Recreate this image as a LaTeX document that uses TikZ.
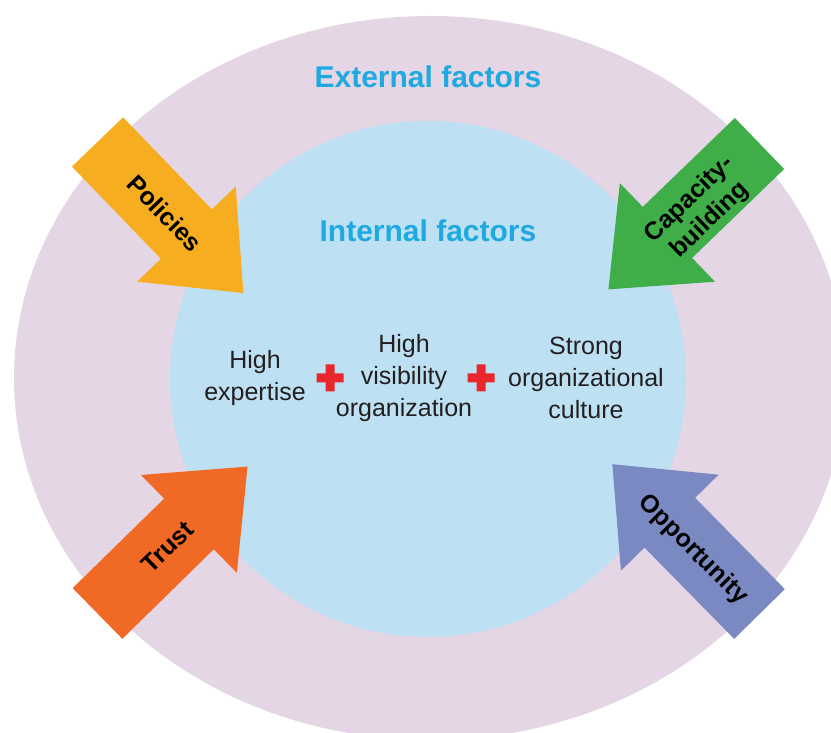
\documentclass[tikz,border=0pt]{standalone}
\usepackage{fontspec}
\setmainfont{Liberation Sans}

\definecolor{outerpink}{HTML}{E4D6E4}
\definecolor{innerblue}{HTML}{BDE1F3}
\definecolor{titleblue}{HTML}{1FA9E1}
\definecolor{bodytext}{HTML}{231F20}
\definecolor{plusred}{HTML}{E8262B}
\definecolor{policiesorange}{HTML}{F6AD20}
\definecolor{capacitygreen}{HTML}{3FAE49}
\definecolor{trustorange}{HTML}{F06A25}
\definecolor{opportunityblue}{HTML}{7A89C2}

% arrow: colour, tail centre, direction
\newcommand{\factorarrow}[3]{%
  \fill[#1, shift={#2}, rotate=#3]
    (0,-35.5) -- (128,-35.5) -- (128,-68.5) -- (210,0)
    -- (128,68.5) -- (128,35.5) -- (0,35.5) -- cycle;}

\begin{document}
\begin{tikzpicture}[x=1pt, y=1pt]
    % Styles
    \tikzstyle{title} = [font=\fontsize{30}{32}\selectfont\bfseries, text=titleblue]
    \tikzstyle{factor} = [font=\fontsize{25}{32}\selectfont, text=bodytext, align=center]
    \tikzstyle{arrowlabel} = [font=\fontsize{25}{29}\selectfont\bfseries, align=center, inner sep=1pt]
    \tikzstyle{plus} = [plusred]

    \useasboundingbox (0,0) rectangle (831,733);
    \clip (0,0) rectangle (831,733);

    % Background
    \fill[outerpink] (430,355) ellipse [x radius=416, y radius=362];
    \fill[innerblue] (428,354) circle [radius=258];

    % Titles
    \node (external) at (428,656) [title] {External factors};
    \node (internal) at (428,502) [title] {Internal factors};

    % Internal factors
    \node (expertise) at (255,355) [factor] {High\\expertise};
    \node (visibility) at (404,355) [factor] {High\\visibility\\organization};
    \node (culture) at (586,355) [factor] {Strong\\organizational\\culture};

    \coordinate (plusA) at (330,355);
    \coordinate (plusB) at (481,355);
    \fill[plus, shift={(plusA)}] (-13.5,-4.5) rectangle (13.5,4.5) (-4.5,-13.5) rectangle (4.5,13.5);
    \fill[plus, shift={(plusB)}] (-13.5,-4.5) rectangle (13.5,4.5) (-4.5,-13.5) rectangle (4.5,13.5);

    % External factors
    \factorarrow{policiesorange}{(97.5,591)}{-46}
    \factorarrow{capacitygreen}{(759.5,589.5)}{224}
    \factorarrow{trustorange}{(97.5,119.5)}{44.4}
    \factorarrow{opportunityblue}{(759.5,119)}{134.5}

    \node (policies) at (165,520) [arrowlabel, rotate=-46] {Policies};
    \node (capacity) at (700,523) [arrowlabel, rotate=44] {Capacity-\\building};
    \node (trust) at (168,186) [arrowlabel, rotate=44] {Trust};
    \node (opportunity) at (693,183) [arrowlabel, rotate=-45] {Opportunity};

\end{tikzpicture}
\end{document}
